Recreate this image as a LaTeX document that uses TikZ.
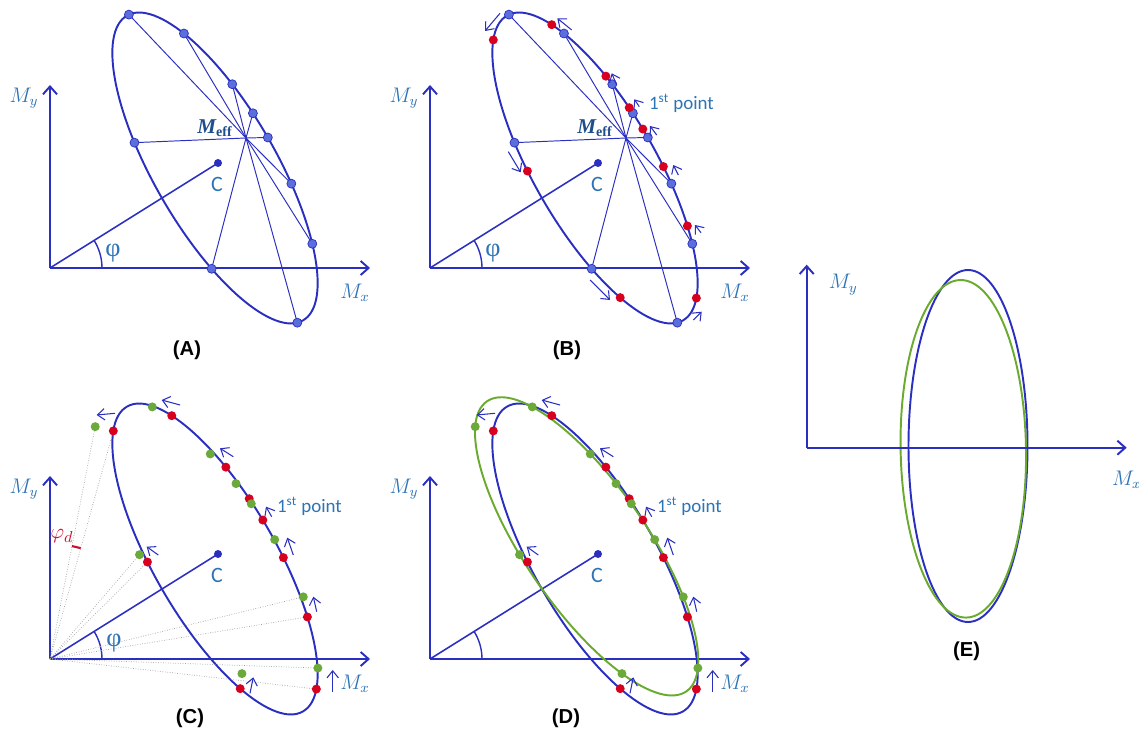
\documentclass[tikz,border=0pt]{standalone}
\usepackage{fontspec}
\setmainfont{Carlito}
\newfontfamily\capfont{Liberation Sans}
\newfontfamily\grkfont{Liberation Serif}
\usetikzlibrary{arrows.meta}

\begin{document}
\begin{tikzpicture}[x=0.02cm,y=0.02cm,
    axis/.style={lineblue,line width=1.1pt,-{Straight Barb[length=4.5pt,width=8pt]}},
    ellblue/.style={lineblue,line width=1.1pt},
    ellgreen/.style={curvegreen,line width=1.1pt},
    spoke/.style={lineblue,line width=0.55pt},
    cline/.style={lineblue,line width=0.9pt},
    anglearc/.style={lineblue,line width=0.8pt},
    motion/.style={lineblue,line width=0.6pt,-{Straight Barb[length=4pt,width=6.5pt]}},
    ray/.style={gray!75,line width=0.4pt,densely dotted},
    axlabel/.style={textblue,font=\fontsize{12}{14}\selectfont},
    ptlabel/.style={textblue,font=\fontsize{12.5}{14}\selectfont},
    firstlabel/.style={textblue,font=\fontsize{10.8}{12}\selectfont,anchor=west,inner sep=1pt},
    philabel/.style={textblue,font=\grkfont\fontsize{15}{16}\selectfont},
    mefflabel/.style={meffblue,font=\grkfont\bfseries\fontsize{12}{14}\selectfont},
    panel/.style={font=\capfont\bfseries\fontsize{11.5}{13}\selectfont}]
    \definecolor{lineblue}{HTML}{2B2FBF}
    \definecolor{textblue}{HTML}{2E74B5}
    \definecolor{meffblue}{HTML}{1F4E8C}
    \definecolor{reddot}{HTML}{D8001F}
    \definecolor{greendot}{HTML}{6BAA3A}
    \definecolor{curvegreen}{HTML}{6AAA2E}
    \definecolor{bluedot}{HTML}{5A6FDC}
    \definecolor{phidred}{HTML}{C8102E}
    \useasboundingbox (0,0) rectangle (1139,734);

    % panels A to D: axes, centre line, angle, ellipse
    \foreach \p/\ox/\oy in {A/50/466,B/430/466,C/50/75,D/430/75} {
        \begin{scope}[shift={(\ox,\oy)}]
            \coordinate (\p-o) at (0,0);
            \coordinate (\p-ytip) at (0,183);
            \coordinate (\p-xtip) at (320,0);
            \coordinate (\p-c) at (168,105);
            \begin{scope}[shift={(165,100)},rotate=-60]
                \draw[ellblue] (0,0) ellipse[x radius=176,y radius=61];
            \end{scope}
            \draw[axis] (\p-o) -- (\p-ytip);
            \draw[axis] (\p-o) -- (\p-xtip);
            \draw[cline] (\p-o) -- (\p-c);
            \draw[anglearc] (52,0) arc[start angle=0,end angle=32,radius=52];
            \fill[lineblue] (\p-c) circle[radius=4];
            \node[axlabel] (\p-my) at (-26,170) {$M_y$};
            \node[axlabel] (\p-mx) at (305,-25) {$M_x$};
            \node[ptlabel] (\p-cl) at (167,84) {C};
        \end{scope}
    }

    % sampled points
    \foreach \p/\ox/\oy in {A/50/466,B/430/466} {
        \begin{scope}[shift={(\ox,\oy)},shift={(165,100)},rotate=-60]
            \foreach \n/\t in {1/178,2/138.6,3/111.3,4/99.3,5/90,6/72.9,7/49.5,8/-5.7,9/-60.9,10/-110.7}
                \coordinate (\p-b\n) at ({176*cos(\t)},{61*sin(\t)});
        \end{scope}
    }
    \foreach \p/\ox/\oy in {B/430/466,C/50/75,D/430/75} {
        \begin{scope}[shift={(\ox,\oy)},shift={(165,100)},rotate=-60]
            \foreach \n/\t in {1/203.2,2/145.9,3/114.9,4/101.5,5/93.2,6/79.2,7/56.8,8/21.9,9/-44.8,10/-100.2}
                \coordinate (\p-r\n) at ({176*cos(\t)},{61*sin(\t)});
        \end{scope}
    }
    \foreach \p/\ox/\oy in {C/50/75,D/430/75} {
        \begin{scope}[shift={(\ox,\oy)},rotate=4.5,shift={(165,100)},rotate=-60]
            \foreach \n/\t in {1/203.2,2/145.9,3/114.9,4/101.5,5/93.2,6/79.2,7/56.8,8/21.9,9/-44.8,10/-100.2}
                \coordinate (\p-g\n) at ({176*cos(\t)},{61*sin(\t)});
        \end{scope}
    }

    % A and B: spokes from M_eff
    \coordinate (A-meff) at (246,466+130);
    \coordinate (B-meff) at (626,466+130);
    \foreach \p in {A,B} {
        \foreach \n in {1,...,10} {
            \draw[spoke] (\p-meff) -- (\p-b\n);
        }
    }
    \foreach \p in {A,B} {
        \foreach \n in {1,...,10} {
            \fill[bluedot] (\p-b\n) circle[radius=4.5];
            \draw[lineblue,line width=0.4pt] (\p-b\n) circle[radius=4.5];
        }
    }
    \node[mefflabel] (A-mefflab) at (215,606) {\itshape M\textsubscript{\upshape eff}};
    \node[mefflabel] (B-mefflab) at (595,606) {\itshape M\textsubscript{\upshape eff}};
    \node[philabel] (A-phi) at (113,481) {φ};
    \node[philabel] (B-phi) at (493,481) {φ};
    \node[panel] (A-lab) at (187,384) {(A)};
    \node[panel] (B-lab) at (567,384) {(B)};

    % B: motion of the points
    \begin{scope}[shift={(430,466)}]
        \foreach \a/\b/\c/\d in {70/254.7/55/237, 141.7/238/127.3/249.7, 186.7/183/181.7/194.7,
                209.3/161.3/204.3/168.7, 226.7/133/220/142, 248.3/93/243.3/103, 271/35.3/265/43,
                263.3/-52/271.7/-43.7, 160/-12/180/-32, 78.3/116.3/90.7/95.7} {
            \draw[motion] (\a,\b) -- (\c,\d);
        }
        \node[firstlabel] (B-first) at (217,165) {1\textsuperscript{st} point};
    \end{scope}
    \foreach \n in {1,...,10} {
        \fill[reddot] (B-r\n) circle[radius=4.5];
    }

    % C: rays from the origin and the dephasing angle
    \foreach \n in {1,10,7,8} {
        \draw[ray] (C-o) -- (C-g\n);
        \draw[ray] (C-o) -- (C-r\n);
    }
    \begin{scope}[shift={(50,75)}]
        \draw[phidred,line width=1.2pt] (74.5:115) arc[start angle=74.5,end angle=79,radius=115];
        \node[phidred,font=\fontsize{13}{15}\selectfont] (C-phid) at (12,123) {$\varphi_d$};
        \node[philabel] (C-phi) at (64,16) {φ};
    \end{scope}

    % D: ellipse of the delayed points
    \begin{scope}[shift={(430,75)},rotate=4.5,shift={(165,100)},rotate=-60]
        \draw[ellgreen] (0,0) ellipse[x radius=176,y radius=61];
    \end{scope}

    % C and D: points and their motion
    \foreach \p/\ox in {C/50,D/430} {
        \begin{scope}[shift={(\ox,75)}]
            \foreach \a/\b/\c/\d in {65/245.7/46.7/244, 130/254/111.7/259, 183.3/202.3/170/210.7,
                    221.7/142.3/216/152.3, 243.3/104/237.3/121.3, 266.7/47.3/263.3/62.3,
                    282.7/-32.7/282.7/-11, 200/-34.3/203.3/-18.3, 108.3/104/96.7/112.3} {
                \draw[motion] (\a,\b) -- (\c,\d);
            }
            \node[firstlabel] (\p-first) at (225,153) {1\textsuperscript{st} point};
        \end{scope}
        \foreach \n in {1,...,10} {
            \fill[reddot] (\p-r\n) circle[radius=4.5];
            \fill[greendot] (\p-g\n) circle[radius=4.5];
        }
    }
    \node[panel] (C-lab) at (190,16) {(C)};
    \node[panel] (D-lab) at (566,16) {(D)};

    % E: on-resonance ellipses
    \begin{scope}[shift={(806.7,286.3)}]
        \coordinate (E-o) at (0,0);
        \coordinate (E-ytip) at (0,183);
        \coordinate (E-xtip) at (320,0);
        \draw[ellblue] (161.3,1.7) ellipse[x radius=59.5,y radius=176];
        \begin{scope}[shift={(156.6,-1.1)},rotate=1]
            \draw[ellgreen] (0,0) ellipse[x radius=62.7,y radius=168.8];
        \end{scope}
        \draw[axis] (E-o) -- (E-ytip);
        \draw[axis] (E-o) -- (E-xtip);
        \node[axlabel] (E-my) at (36.6,163) {$M_y$};
        \node[axlabel] (E-mx) at (320,-32.3) {$M_x$};
        \node[panel] (E-lab) at (160,-204) {(E)};
    \end{scope}
\end{tikzpicture}
\end{document}
